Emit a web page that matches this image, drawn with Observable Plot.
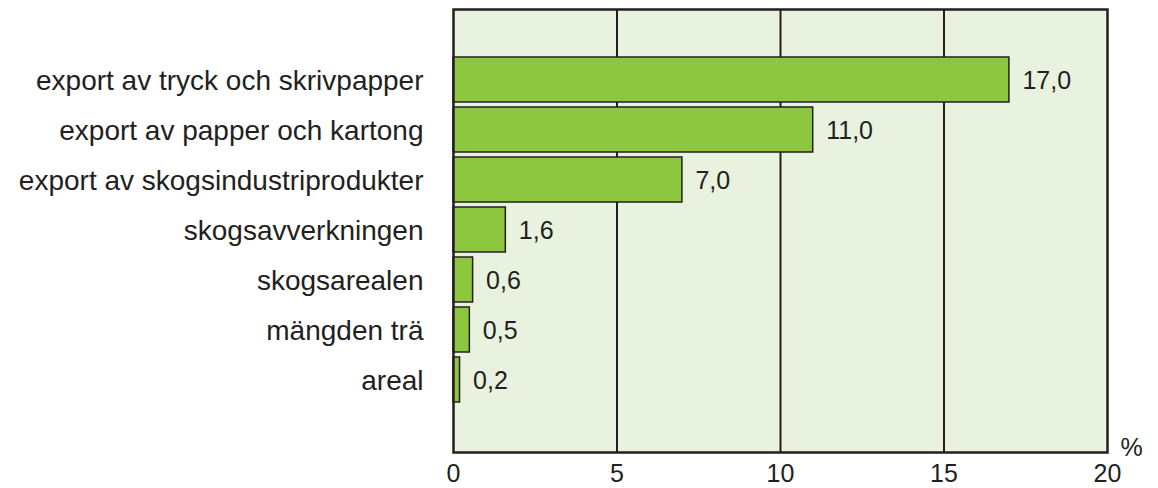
<!DOCTYPE html>
<html><head><meta charset="utf-8">
<script src="https://cdn.jsdelivr.net/npm/d3@7"></script>
<script src="https://cdn.jsdelivr.net/npm/@observablehq/plot@0.6"></script>
<style>body{margin:0;background:#fff}</style>
</head><body><div id="chart"></div>
<script>
const categories = ["export av tryck och skrivpapper","export av papper och kartong","export av skogsindustriprodukter","skogsavverkningen","skogsarealen","mängden trä","areal"];
const values = [17.0, 11.0, 7.0, 1.6, 0.6, 0.5, 0.2];
const xTicks = [0, 5, 10, 15, 20];
const unitLabel = "%";

const data = categories.map((c, i) => ({cat: c, v: values[i]}));
const fmt = v => d3.format(".1f")(v).replace(".", ",");
const ink = "#231f20";
const fs = 25;
const fsLabel = 28;

const chart = Plot.plot({
  width: 1158, height: 488,
  marginLeft: 453, marginRight: 51, marginTop: 9, marginBottom: 36,
  style: {fontFamily: "'Liberation Sans', Arial, sans-serif", fontSize: fs + "px", color: ink, background: "#fff"},
  x: {domain: [0, 20], ticks: xTicks},
  y: {domain: categories, range: [50, 409], padding: 0.1},
  marks: [
    Plot.frame({fill: "#e9f2df", stroke: null}),
    Plot.ruleX([5, 10, 15], {stroke: ink, strokeWidth: 2}),
    Plot.barX(data, {x: "v", y: "cat", fill: "#8dc63f", stroke: ink, strokeWidth: 1.5}),
    Plot.text(data, {x: "v", y: "cat", text: d => fmt(d.v), dx: 13, dy: 1, textAnchor: "start", fill: ink, fontSize: fs}),
    Plot.frame({stroke: ink, strokeWidth: 2.5}),
    Plot.axisX({ticks: xTicks, tickSize: 0, tickPadding: 12, label: null, fontSize: fs, fill: ink}),
    Plot.axisY({tickSize: 0, tickPadding: 30, dy: 1, label: null, fontSize: fsLabel, fill: ink}),
    Plot.text([unitLabel], {frameAnchor: "bottom-right", dx: 13, dy: 3, textAnchor: "start", lineAnchor: "bottom", fontSize: fs, fill: ink})
  ]
});
document.getElementById("chart").appendChild(chart);
</script>
</body></html>
